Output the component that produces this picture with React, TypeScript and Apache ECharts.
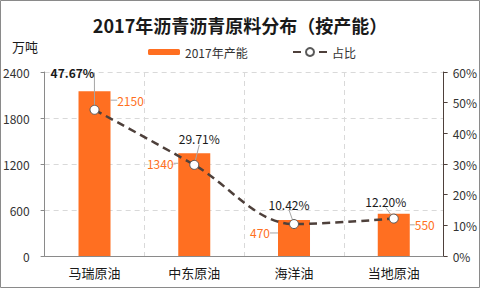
import React, { useEffect, useRef } from "react";
import * as echarts from "echarts";

const categories = ["马瑞原油", "中东原油", "海洋油", "当地原油"];
const capacity = [2150, 1340, 470, 550];
const share = [47.67, 29.71, 10.42, 12.2];
const leftTicks = { min: 0, max: 2400, interval: 600 };
const rightTicks = { min: 0, max: 60, interval: 10 };

const FONT = "Noto Sans CJK SC";
const ORANGE = "#FF6F21";
const LINE = "#4E403B";

// label offsets from the mark (layout only)
const barLabelOffset = [
  [36, 9],
  [-34, 10],
  [-34, 13],
  [31, 11],
];
const lineLabelOffset = [
  [-22, -37],
  [5, -26],
  [-5, -20],
  [-8, -17],
];

export default function App() {
  const ref = useRef<HTMLDivElement>(null);
  useEffect(() => {
    document.body.style.margin = "0";
    const chart = echarts.init(ref.current!, null, { renderer: "svg" });
    const place = (offsets: number[][]) => (p: any) => {
      const r = p.rect;
      const o = offsets[p.dataIndex];
      const isBar = p.seriesIndex === 0;
      return {
        x: r.x + r.width / 2 + o[0],
        y: (isBar ? r.y : r.y + r.height / 2) + o[1],
        align: "center",
        verticalAlign: "middle",
      };
    };
    chart.setOption({
      animation: false,
      textStyle: { fontFamily: FONT },
      title: {
        text: "2017年沥青沥青原料分布（按产能）",
        left: "center",
        top: 11,
        textStyle: { fontFamily: FONT, fontSize: 18, fontWeight: "bold", color: "#1a1a1a" },
      },
      graphic: [
        {
          type: "rect",
          shape: { x: 0.5, y: 0.5, width: 479, height: 287 },
          style: { fill: "none", stroke: "#8a8a8a", lineWidth: 1 },
          silent: true,
        },
        {
          type: "text",
          left: 12,
          top: 40,
          style: { text: "万吨", font: `13px "${FONT}"`, fill: "#1a1a1a" },
        },
      ],
      legend: [
        {
          data: ["2017年产能"],
          left: 143,
          top: 41,
          itemWidth: 32,
          itemHeight: 6,
          itemGap: 6,
          textStyle: { fontFamily: FONT, fontSize: 12, color: "#333" },
        },
        {
          data: ["占比"],
          left: 287,
          top: 41,
          itemWidth: 34,
          itemHeight: 10,
          itemGap: 5,
          textStyle: { fontFamily: FONT, fontSize: 12, color: "#333" },
        },
      ],
      grid: { left: 41, right: 33, top: 72, bottom: 32 },
      xAxis: {
        type: "category",
        data: categories,
        axisLine: { lineStyle: { color: "#8a8a8a" } },
        axisTick: { show: false },
        axisLabel: { fontSize: 13, color: "#1a1a1a", margin: 10, fontFamily: FONT },
        splitLine: { show: true, lineStyle: { color: "#d9d9d9", type: [5, 4] } },
      },
      yAxis: [
        {
          type: "value",
          ...leftTicks,
          axisLine: { show: true, lineStyle: { color: "#8a8a8a" } },
          axisTick: { show: true, length: 4, lineStyle: { color: "#8a8a8a" } },
          axisLabel: {
            fontSize: 12,
            color: "#333",
            margin: 15,
            fontFamily: FONT,
            formatter: (v: number) => String(v),
          },
          splitLine: { show: true, lineStyle: { color: "#d9d9d9", type: [5, 4] } },
        },
        {
          type: "value",
          ...rightTicks,
          position: "right",
          axisLine: { show: true, lineStyle: { color: LINE } },
          axisTick: { show: true, length: 4, lineStyle: { color: LINE } },
          axisLabel: { fontSize: 12, color: "#333", margin: 9, formatter: "{value}%", fontFamily: FONT },
          splitLine: { show: false },
        },
      ],
      series: [
        {
          name: "2017年产能",
          type: "bar",
          data: capacity,
          barWidth: 32,
          itemStyle: { color: ORANGE },
          label: {
            show: true,
            position: "top",
            color: ORANGE,
            fontSize: 12,
            fontFamily: FONT,
          },
          labelLine: { show: true, lineStyle: { color: "#a6a6a6", width: 1 } },
          labelLayout: place(barLabelOffset),
        },
        {
          name: "占比",
          type: "line",
          yAxisIndex: 1,
          smooth: 0.35,
          data: share.map((v, i) =>
            i === 0 ? { value: v, label: { fontWeight: "bold" } } : v
          ),
          symbol: "circle",
          symbolSize: 9,
          itemStyle: { color: "#ffffff", borderColor: "#595959", borderWidth: 1 },
          lineStyle: { color: LINE, width: 2.5, type: [8, 5] },
          label: {
            show: true,
            position: "top",
            color: "#1a1a1a",
            fontSize: 12,
            fontFamily: FONT,
            formatter: (p: any) => `${Number(p.value).toFixed(2)}%`,
          },
          labelLine: { show: true, lineStyle: { color: "#a6a6a6", width: 1 } },
          labelLayout: place(lineLabelOffset),
          z: 3,
        },
      ],
    });
    return () => chart.dispose();
  }, []);
  return (
    <div
      ref={ref}
      style={{ position: "absolute", left: 0, top: 0, width: 480, height: 288 }}
    />
  );
}
